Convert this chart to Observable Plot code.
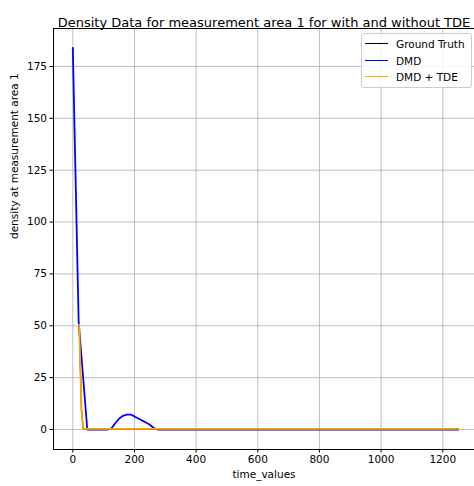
<!DOCTYPE html>
<html>
<head>
<meta charset="utf-8">
<script src="https://cdn.jsdelivr.net/npm/d3@7"></script>
<script src="https://cdn.jsdelivr.net/npm/@observablehq/plot@0.6"></script>
<style>
  html, body { margin: 0; padding: 0; background: #fff; }
  #wrap { position: relative; width: 474px; height: 486px; font-family: "DejaVu Sans", sans-serif; }
  #legend { position: absolute; left: 361px; top: 33px; width: 109px; height: 53px;
    border: 1px solid #cccccc; border-radius: 3px; background: rgba(255,255,255,0.85);
    font-size: 10.5px; color: #000; }
  .row { position: absolute; left: 0; height: 14px; }
  .sw { position: absolute; left: 3px; top: 6px; width: 23px; height: 0; border-top: 1.8px solid; }
  .lab { position: absolute; left: 34px; top: 0; white-space: nowrap; line-height: 14px; }
</style>
</head>
<body>
<div id="wrap"></div>
<script>
// Series (time_values, density)
const gtTime   = [20.7, 28.2, 33.7, 1250];
const gtValues = [50.6, 9.2, 0.3, 0.3];

const dmdTime   = [0, 19, 47, 112.5, 125, 137.5, 150, 162.5, 175, 187.5, 200, 212.5, 225, 237.5, 250, 262.5, 275, 1250];
const dmdValues = [184, 52, 0, 0, 0.5, 3.0, 5.2, 6.6, 7.2, 7.2, 6.3, 5.3, 4.3, 3.4, 2.3, 0.7, 0, 0];

const tdeTime   = [20.7, 28.2, 33.7, 1250];
const tdeValues = [50.6, 9.2, 0.3, 0.3];

const xTicks = [0, 200, 400, 600, 800, 1000, 1200];
const yTicks = [0, 25, 50, 75, 100, 125, 150, 175];

const seriesNames = ["Ground Truth", "DMD", "DMD + TDE"];
const seriesColors = ["#000000", "#0000ff", "#ffa500"];

const toRows = (ts, vs) => ts.map((t, i) => ({t, v: vs[i]}));
const gt = toRows(gtTime, gtValues);
const dmd = toRows(dmdTime, dmdValues);
const tde = toRows(tdeTime, tdeValues);

const font = "DejaVu Sans, sans-serif";
const fmt = d => String(d);

const chart = Plot.plot({
  width: 474,
  height: 486,
  marginLeft: 53,
  marginTop: 28,
  marginBottom: 37,
  marginRight: 0,
  style: {fontFamily: font, fontSize: "10.5px", color: "#000", background: "#fff"},
  x: {domain: [-62.6, 1302.9], ticks: xTicks},
  y: {domain: [-9.64, 193.3], ticks: yTicks},
  marks: [
    Plot.gridX(xTicks, {stroke: "#b0b0b0", strokeOpacity: 1, strokeWidth: 0.8}),
    Plot.gridY(yTicks, {stroke: "#b0b0b0", strokeOpacity: 1, strokeWidth: 0.8}),
    Plot.axisX(xTicks, {tickSize: 3.5, tickPadding: 3, fontSize: 10.5, label: null, stroke: "#000", tickFormat: fmt}),
    Plot.axisY(yTicks, {tickSize: 3.5, tickPadding: 3, fontSize: 10.5, label: null, stroke: "#000", tickFormat: fmt}),
    Plot.line(gt, {x: "t", y: "v", stroke: seriesColors[0], strokeWidth: 1.2}),
    Plot.line(dmd, {x: "t", y: "v", stroke: seriesColors[1], strokeWidth: 1.8}),
    Plot.line(tde, {x: "t", y: "v", stroke: seriesColors[2], strokeWidth: 1.8}),
    Plot.frame({stroke: "#000", strokeWidth: 1}),
    Plot.text(["Density Data for measurement area 1 for with and without TDE"],
      {frameAnchor: "top", dy: -11, fontSize: 13, fill: "#000"}),
    Plot.text(["time_values"], {frameAnchor: "bottom", dy: 28, fontSize: 10.5, fill: "#000"}),
    Plot.text(["density at measurement area 1"], {frameAnchor: "left", dx: -39, rotate: -90, fontSize: 10.5, fill: "#000"})
  ]
});

const wrap = document.getElementById("wrap");
chart.style.position = "absolute";
chart.style.left = "0";
chart.style.top = "0";
wrap.appendChild(chart);

const legend = document.createElement("div");
legend.id = "legend";
seriesNames.forEach((name, i) => {
  const row = document.createElement("div");
  row.className = "row";
  row.style.top = (3 + i * 16.5) + "px";
  row.style.width = "100%";
  const sw = document.createElement("div");
  sw.className = "sw";
  sw.style.borderTopColor = seriesColors[i];
  const lab = document.createElement("div");
  lab.className = "lab";
  lab.textContent = name;
  row.appendChild(sw);
  row.appendChild(lab);
  legend.appendChild(row);
});
wrap.appendChild(legend);
</script>
</body>
</html>
